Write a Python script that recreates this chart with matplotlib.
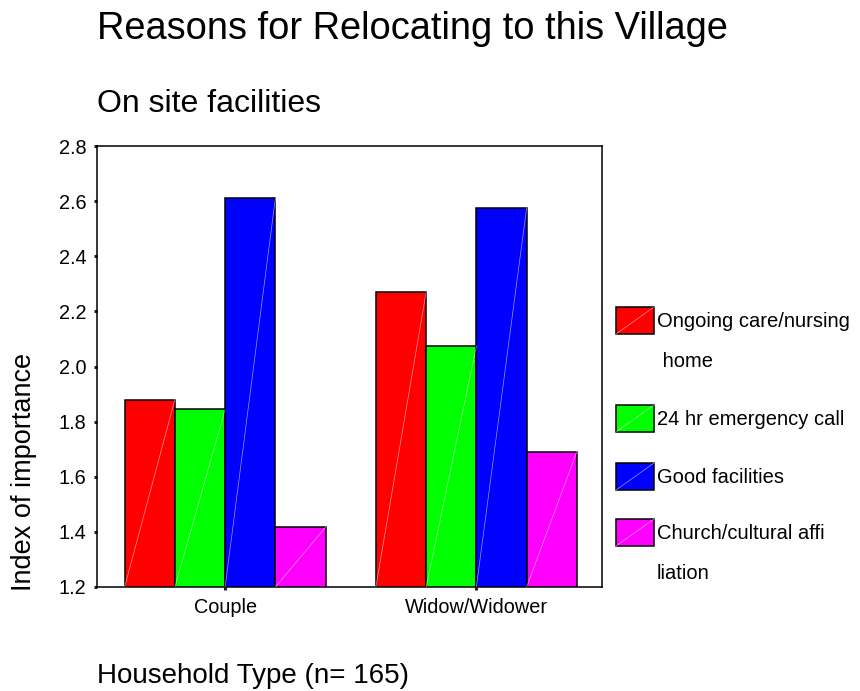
import numpy as np
import matplotlib
matplotlib.use("Agg")
import matplotlib.pyplot as plt
from matplotlib.patches import Rectangle

plt.rcParams['font.family'] = ['Liberation Sans', 'DejaVu Sans']

# ---------------------------------------------------------------------
#   data
# ---------------------------------------------------------------------
household = ['Couple', 'Widow/Widower']
series = ['Ongoing care/nursing\n home', '24 hr emergency call',
          'Good facilities', 'Church/cultural affi\nliation']
ongoing_care = [1.880, 2.270]
emergency_call = [1.844, 2.074]
good_facilities = [2.611, 2.575]
church_cultural = [1.417, 1.691]
colors = ['#ff0000', '#00ff00', '#0000ff', '#ff00ff']
yticks = [1.2, 1.4, 1.6, 1.8, 2.0, 2.2, 2.4, 2.6, 2.8]

values = [ongoing_care, emergency_call, good_facilities, church_cultural]

W, H = 860, 691
fig = plt.figure(figsize=(W / 100, H / 100), dpi=100)
ax = fig.add_axes([97 / W, 1 - 587 / H, 505 / W, 441 / H])

ymin, ymax = 1.2, 2.8
bw = 0.2
x = np.arange(len(household))
for i, (vals, col) in enumerate(zip(values, colors)):
    pos = x + (i - 1.5) * bw
    bars = ax.bar(pos, vals, width=bw, color=col, edgecolor='black',
                  linewidth=1.1, zorder=2)
    # faint white diagonal seen inside each bar
    for b in bars:
        ax.plot([b.get_x(), b.get_x() + b.get_width()], [ymin, b.get_height()],
                color='white', lw=0.5, alpha=0.6, zorder=3)

ax.set_xlim(-0.51, 1.5)
ax.set_ylim(ymin, ymax)
ax.set_yticks(yticks)
ax.set_yticklabels(['%.1f' % t for t in yticks])
ax.set_xticks(x)
ax.set_xticklabels(household)
ax.tick_params(axis='both', direction='out', length=2.2, width=2.2,
               labelsize=14.3, color='#222222')
ax.tick_params(axis='y', pad=5.5)
ax.tick_params(axis='x', pad=6)
for sp in ax.spines.values():
    sp.set_linewidth(1.1)
    sp.set_color('black')

# titles and axis labels
fig.text(97 / W, 1 - 39 / H, 'Reasons for Relocating to this Village',
         fontsize=27.4, ha='left', va='baseline')
fig.text(97 / W, 1 - 112 / H, 'On site facilities',
         fontsize=23, ha='left', va='baseline')
fig.text(97 / W, 1 - 683 / H, 'Household Type (n= 165)',
         fontsize=20, ha='left', va='baseline')
fig.text(24 / W, 1 - 472 / H, 'Index of importance',
         fontsize=19.5, rotation=90, ha='center', va='center')

# legend, drawn by hand so the swatch sits on the first text line
patch_tops = [307, 405, 463, 519]
line_step = 40
for lab, col, top in zip(series, colors, patch_tops):
    x0, y0 = 616 / W, 1 - (top + 27) / H
    pw, ph = 38 / W, 27 / H
    fig.add_artist(Rectangle((x0, y0), pw, ph, transform=fig.transFigure,
                             facecolor=col, edgecolor='black', lw=1.1))
    fig.add_artist(plt.Line2D([x0, x0 + pw], [y0, y0 + ph], transform=fig.transFigure,
                              color='white', lw=0.5, alpha=0.6))
    for k, line in enumerate(lab.split('\n')):
        fig.text(657 / W, 1 - (top + 20 + k * line_step) / H, line,
                 fontsize=14.5, ha='left', va='baseline')

fig.savefig('out.png', dpi=100, facecolor='white')
